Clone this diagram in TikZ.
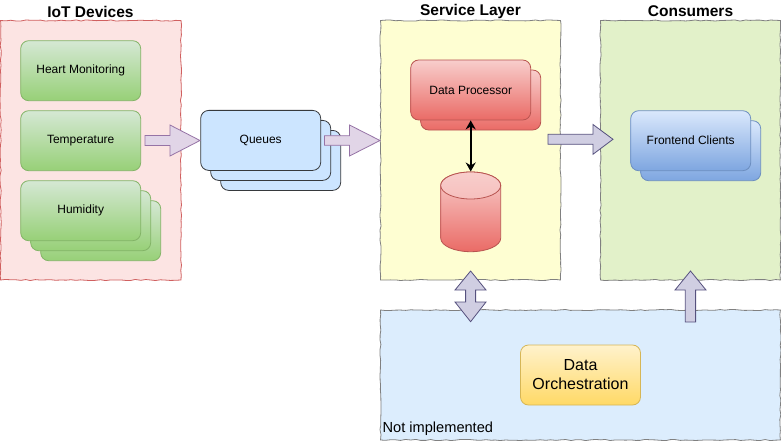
\documentclass[tikz,border=0pt]{standalone}
\usepackage{fontspec}
\setmainfont{Liberation Sans}
\usetikzlibrary{decorations.pathmorphing,arrows.meta}
\definecolor{gT}{HTML}{D5E8D4}\definecolor{gB}{HTML}{97D077}\definecolor{gS}{HTML}{82B366}
\definecolor{qF}{HTML}{CCE5FF}\definecolor{qS}{HTML}{36393D}
\definecolor{rT}{HTML}{F8CECC}\definecolor{rB}{HTML}{EA6B66}\definecolor{rS}{HTML}{B85450}
\definecolor{bT}{HTML}{DAE8FC}\definecolor{bB}{HTML}{7EA6E0}\definecolor{bS}{HTML}{6C8EBF}
\definecolor{yT}{HTML}{FFF2CC}\definecolor{yB}{HTML}{FFD966}\definecolor{yS}{HTML}{D6B656}
\definecolor{aF}{HTML}{E1D5E7}\definecolor{aS}{HTML}{9673A6}
\definecolor{cF}{HTML}{D0CEE2}\definecolor{cS}{HTML}{56517E}
\definecolor{iotF}{HTML}{FCE4E3}\definecolor{iotS}{HTML}{D06060}
\definecolor{svF}{HTML}{FEFED2}\definecolor{conF}{HTML}{E2F1C9}\definecolor{botF}{HTML}{DCEDFD}
\definecolor{grS}{HTML}{808080}
\begin{document}
\begin{tikzpicture}[x=1pt,y=-1pt,font=\fontsize{12}{14}\selectfont,
  sketch/.style={decorate,decoration={random steps,segment length=5pt,amplitude=0.6pt},line width=0.8pt},
  rbox/.style={rectangle,rounded corners=8pt,minimum width=120pt,minimum height=60pt,inner sep=0pt,line width=0.8pt,text=black},
  grn/.style={rbox,draw=gS,top color=gT,bottom color=gB},
  que/.style={rbox,draw=qS,fill=qF},
  red/.style={rbox,draw=rS,top color=rT,bottom color=rB},
  blu/.style={rbox,draw=bS,top color=bT,bottom color=bB},
  yel/.style={rbox,draw=yS,top color=yT,bottom color=yB,font=\fontsize{16}{19}\selectfont,align=center},
  ttl/.style={font=\fontsize{15.5}{18}\selectfont\bfseries,inner sep=0pt},
  arrA/.style={draw=aS,fill=aF,line width=0.8pt,line join=miter},
  arrC/.style={draw=cS,fill=cF,line width=0.8pt,line join=miter}]
\useasboundingbox (0,0) rectangle (781,441);
% containers
\path[sketch,draw=iotS,fill=iotF] (0.6,20.5) rectangle (181,280);
\path[sketch,draw=grS,fill=svF] (380.5,20.5) rectangle (560.5,280);
\path[sketch,draw=grS,fill=conF] (600.5,20.5) rectangle (780.4,280);
\path[sketch,draw=grS,fill=botF] (380.5,310) rectangle (780.4,440);
\node[ttl] (t1) at (90.5,11.5) {IoT Devices};
\node[ttl] (t2) at (470.5,11.5) {Service Layer};
\node[ttl] (t3) at (690.5,11.5) {Consumers};
\node[anchor=south west,inner sep=0pt,font=\fontsize{14.6}{17}\selectfont] (ni) at (382.5,436) {Not implemented};
% IoT devices
\node[grn] (heart) at (80.7,70.7) {Heart Monitoring};
\node[grn] (temp) at (80.7,140.7) {Temperature};
\node[grn] (hum3) at (100.7,230.7) {};
\node[grn] (hum2) at (90.7,220.7) {};
\node[grn] (hum) at (80.7,210.7) {Humidity};
% queues
\node[que] (q3) at (280.7,160.4) {};
\node[que] (q2) at (270.7,150.4) {};
\node[que] (q) at (260.7,140.4) {Queues};
% service layer
\node[red] (dp2) at (480.7,100) {};
\node[red] (dp) at (470.7,90) {Data Processor};
\coordinate (dbtop) at (470.7,171.5);
\shade[top color=rT,bottom color=rB,draw=rS,line width=0.8pt]
  (440.7,185.5) arc[start angle=180,end angle=0,x radius=30pt,y radius=13.5pt]
  -- (500.7,238.2) arc[start angle=0,end angle=-180,x radius=30pt,y radius=13.5pt] -- cycle;
\shade[top color=rT,bottom color=rT!85!rB,draw=rS,line width=0.8pt]
  (470.7,185.5) ellipse[x radius=30pt,y radius=13.5pt];
\draw[line width=2pt,{Stealth[length=9pt,width=10pt]}-{Stealth[length=9pt,width=10pt]}] (dp.south) -- (dbtop);
% consumers
\node[blu] (fc2) at (700.7,150.7) {};
\node[blu] (fc) at (690.7,140.7) {Frontend Clients};
% orchestration
\node[yel] (orch) at (580.5,375) {Data\\Orchestration};
% block arrows
\draw[arrA] (145,135.5) -- (170,135.5) -- (170,125) -- (200,140.5) -- (170,156) -- (170,145.5) -- (145,145.5) -- cycle;
\draw[arrA] (324.5,135.7) -- (349.5,135.7) -- (349.5,125) -- (380,140.5) -- (349.5,156) -- (349.5,145.3) -- (324.5,145.3) -- cycle;
\draw[arrC] (548,134.3) -- (593,134.3) -- (593,124.5) -- (613,139.3) -- (593,154.3) -- (593,144.3) -- (548,144.3) -- cycle;
\draw[arrC] (685.3,322) -- (685.3,290) -- (675,290) -- (690.5,271) -- (706,290) -- (695.6,290) -- (695.6,322) -- cycle;
\draw[arrC] (470.6,271) -- (486,290) -- (475.6,290) -- (475.6,302) -- (486,302) -- (470.6,321.7) -- (455,302) -- (465.6,302) -- (465.6,290) -- (455,290) -- cycle;
\end{tikzpicture}
\end{document}
